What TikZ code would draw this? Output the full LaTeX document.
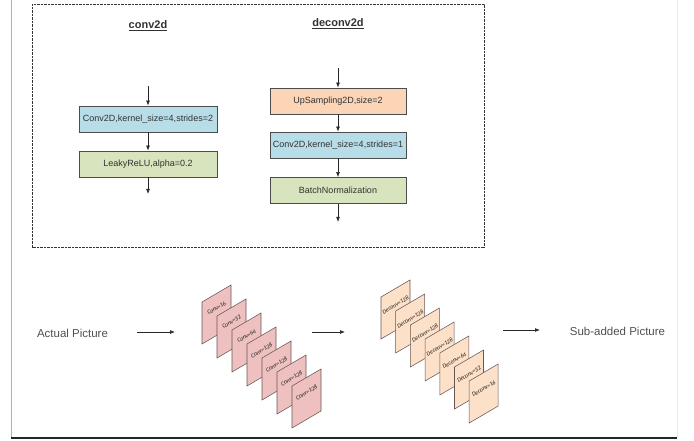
\documentclass[tikz,border=0pt]{standalone}
\usepackage{fontspec}
\setmainfont{Liberation Sans}
\newfontfamily\sheetfont{Carlito}
\usetikzlibrary{arrows.meta}

\definecolor{boxblue}{RGB}{183,221,232}
\definecolor{boxgreen}{RGB}{215,228,189}
\definecolor{boxpeach}{RGB}{251,213,181}
\definecolor{sheetpink}{RGB}{238,192,192}
\definecolor{sheetpeach}{RGB}{252,224,199}
\definecolor{sheetedge}{RGB}{105,85,85}
\definecolor{txt}{RGB}{50,50,50}
\definecolor{lighttxt}{RGB}{80,80,80}

% one feature-map sheet: name, top-left x, top-left y, fill, label, label offset
\newcommand\featuresheet[6]{%
  \draw[fill=#4, draw=sheetedge, line width=0.55pt]
    (#2,#3) -- ++(29,-17) -- ++(0,42) -- ++(-29,17) -- cycle;
  \node[sheetlabel] (#1) at (#2+14.5,#3+#6) {#5};
}

\begin{document}
\begin{tikzpicture}[x=1pt,y=-1pt,
  layer/.style={draw=black!70, line width=0.7pt, minimum height=26pt,
    inner sep=0pt, text=txt, font=\fontsize{9}{11}\selectfont},
  title/.style={text=txt, font=\bfseries\fontsize{11}{13}\selectfont},
  caption/.style={text=lighttxt, font=\fontsize{11.5}{13}\selectfont},
  sheetlabel/.style={rotate=30.4, inner sep=0pt, text=black!90,
    font=\sheetfont\itshape\fontsize{5.9}{7}\selectfont},
  flow/.style={-{Latex[length=5pt,width=3.8pt]}, line width=0.6pt, black!85},
]
\useasboundingbox (0,0) rectangle (694,441);

% page frame
\draw[black!30, line width=0.8pt] (11,0) -- (11,438);
\draw[black!8, line width=0.8pt] (677,0) -- (677,438);
\draw[black!85, line width=1.3pt] (11,438) -- (677,438);

% dotted frame around the two blocks
\draw[black!80, line width=0.65pt, dash pattern=on 0.9pt off 0.5pt]
  (32,4) rectangle (484,247);

% conv2d block
\node[title] (tconv) at (148,26) {\underline{conv2d}};
\node[layer, fill=boxblue, minimum width=138pt] (c1) at (148,119)
  {Conv2D,kernel\_size=4,strides=2};
\node[layer, fill=boxgreen, minimum width=138pt] (c2) at (148,164)
  {LeakyReLU,alpha=0.2};
\coordinate (cin) at (148,86);
\coordinate (cout) at (148,194);
\draw[flow] (cin) -- (c1);
\draw[flow] (c1) -- (c2);
\draw[flow] (c2) -- (cout);

% deconv2d block
\node[title] (tdeconv) at (338,24) {\underline{deconv2d}};
\node[layer, fill=boxpeach, minimum width=136pt] (d1) at (338,101)
  {UpSampling2D,size=2};
\node[layer, fill=boxblue, minimum width=136pt] (d2) at (338,145)
  {Conv2D,kernel\_size=4,strides=1};
\node[layer, fill=boxgreen, minimum width=136pt] (d3) at (338,190.5)
  {BatchNormalization};
\coordinate (din) at (338,68);
\coordinate (dout) at (338,222);
\draw[flow] (din) -- (d1);
\draw[flow] (d1) -- (d2);
\draw[flow] (d2) -- (d3);
\draw[flow] (d3) -- (dout);

% pipeline
\node[caption] (actual) at (72.5,333) {Actual Picture};
\node[caption] (subadded) at (617.5,331) {Sub-added Picture};

\featuresheet{s1}{202}{302}{sheetpink}{Conv=16}{6}
\featuresheet{s2}{217}{316}{sheetpink}{Conv=32}{6}
\featuresheet{s3}{232}{330}{sheetpink}{Conv=64}{6}
\featuresheet{s4}{247}{344}{sheetpink}{Conv=128}{6.5}
\featuresheet{s5}{262}{358}{sheetpink}{Conv=128}{6.5}
\featuresheet{s6}{277}{372}{sheetpink}{Conv=128}{6.5}
\featuresheet{s7}{292}{386}{sheetpink}{Conv=128}{6.5}

\featuresheet{u1}{381}{297}{sheetpeach}{Deconv=128}{8}
\featuresheet{u2}{395.7}{311}{sheetpeach}{Deconv=128}{8}
\featuresheet{u3}{410.4}{325}{sheetpeach}{Deconv=128}{8}
\featuresheet{u4}{425.1}{339}{sheetpeach}{Deconv=128}{8}
\featuresheet{u5}{439.8}{353}{sheetpeach}{Deconv=64}{7.5}
\featuresheet{u6}{454.5}{367}{sheetpeach}{Deconv=32}{7.5}
\featuresheet{u7}{469.2}{381}{sheetpeach}{Deconv=16}{7.5}

\coordinate (a1s) at (137,332);
\coordinate (a1e) at (175,332);
\coordinate (a2s) at (312,332);
\coordinate (a2e) at (345,332);
\coordinate (a3s) at (503,330);
\coordinate (a3e) at (540,330);
\draw[flow] (a1s) -- (a1e);
\draw[flow] (a2s) -- (a2e);
\draw[flow] (a3s) -- (a3e);
\end{tikzpicture}
\end{document}
